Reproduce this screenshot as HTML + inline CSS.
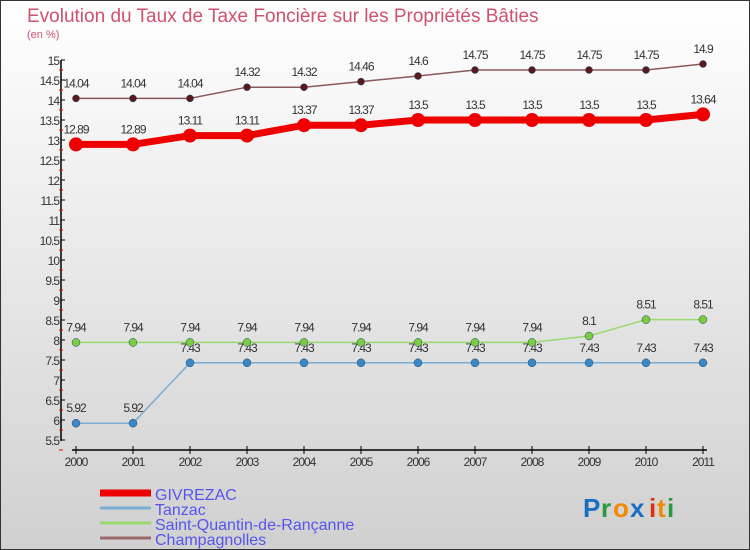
<!DOCTYPE html>
<html><head><meta charset="utf-8"><style>
body{margin:0}
#c{width:750px;height:550px;position:relative;background:linear-gradient(#ffffff,#d0d0d0);font-family:"Liberation Sans",sans-serif;box-sizing:border-box;border:1px solid #333;overflow:hidden}
</style></head><body>
<div id="c">
<svg id="s" width="750" height="550" style="position:absolute;left:-1px;top:-1px">
<text x="27" y="22" font-size="19" fill="#d0506e">Evolution du Taux de Taxe Foncière sur les Propriétés Bâties</text>
<text x="27" y="38" font-size="11" fill="#d0506e">(en %)</text>
<g font-size="26" font-weight="bold"><text x="583" y="517" fill="#1a6fc0">P</text><text x="601" y="517" fill="#2a9a3a">r</text><text x="613" y="517" fill="#f08a00">o</text><text x="630" y="517" fill="#1a6fc0">x</text><text x="649" y="517" fill="#e03010">i</text><text x="657" y="517" fill="#f08a00">t</text><text x="667" y="517" fill="#2a9a3a">i</text></g>
</svg>
</div>
<script>
const years=[2000,2001,2002,2003,2004,2005,2006,2007,2008,2009,2010,2011];
const givrezac=[12.89,12.89,13.11,13.11,13.37,13.37,13.5,13.5,13.5,13.5,13.5,13.64];
const tanzac=[5.92,5.92,7.43,7.43,7.43,7.43,7.43,7.43,7.43,7.43,7.43,7.43];
const stq=[7.94,7.94,7.94,7.94,7.94,7.94,7.94,7.94,7.94,8.1,8.51,8.51];
const champ=[14.04,14.04,14.04,14.32,14.32,14.46,14.6,14.75,14.75,14.75,14.75,14.9];
const yTicks=[5.5,6,6.5,7,7.5,8,8.5,9,9.5,10,10.5,11,11.5,12,12.5,13,13.5,14,14.5,15];
const seriesNames=["GIVREZAC","Tanzac","Saint-Quantin-de-Rançanne","Champagnolles"];
const NS="http://www.w3.org/2000/svg",s=document.getElementById('s');
const X=i=>76+i*57, Y=v=>440-(v-5.5)*40;
function el(t,a,p){const e=document.createElementNS(NS,t);for(const k in a)e.setAttribute(k,a[k]);(p||s).appendChild(e);return e;}
function fmt(v){return String(v);}
let ax=el('line',{x1:61,y1:60,x2:61,y2:441,stroke:'#000','stroke-width':1.5});


let xa=el('line',{x1:72,y1:450,x2:707,y2:450,stroke:'#000','stroke-width':1.5});


yTicks.forEach(v=>{
 el('line',{x1:61,y1:Y(v),x2:65,y2:Y(v),stroke:'#000'});
 el('line',{x1:59,y1:Y(v)+10,x2:63,y2:Y(v)+10,stroke:'#e00'});
 let t=el('text',{x:59,y:Y(v)+5,'font-size':12,fill:'#333','text-anchor':'end','letter-spacing':'-1'});t.textContent=fmt(v);
 
 
});
years.forEach((y,i)=>{
 el('line',{x1:X(i),y1:446,x2:X(i),y2:454,stroke:'#000'});
 let t=el('text',{x:X(i),y:466,'font-size':12,fill:'#333','text-anchor':'middle','letter-spacing':'-1'});t.textContent=y;
 
 
});
function series(data,color,w,r,name,dot){
 const g=el('g',{});
 
 
 el('polyline',{points:data.map((v,i)=>X(i)+','+Y(v)).join(' '),fill:'none',stroke:color,'stroke-width':w},g);
 data.forEach((v,i)=>{
  const c=el('circle',{cx:X(i),cy:Y(v),r:r,fill:dot,stroke:dot==color?'none':'#246','stroke-width':0.5},g);
  
  
  const t=el('text',{x:X(i),y:Y(v)-11,'font-size':12,fill:'#333','text-anchor':'middle','letter-spacing':'-1'},g);t.textContent=fmt(v);
 });
}
series(tanzac,'#7aaed4',1.5,4,'series-tanzac','#3a88c8');
series(stq,'#9ad870',1.5,4,'series-saint-quantin','#7acc40');
series(champ,'#8a5a5a',1.5,3.5,'series-champagnolles','#5a1a1a');
series(givrezac,'#ee0000',7,7,'series-givrezac','#ee0000');
const lc=['#ee0000','#7aaed4','#9ad870','#9a6a6a'],lw=[7,3,3,3];
seriesNames.forEach((n,i)=>{
 const g=el('g',{});
 
 
 const yy=493+i*15;
 el('line',{x1:100,y1:yy,x2:151,y2:yy,stroke:lc[i],'stroke-width':lw[i]},g);
 const t=el('text',{x:155,y:yy+7,'font-size':16,fill:'#5555ee'},g);t.textContent=n;
});
</script>
</body></html>
